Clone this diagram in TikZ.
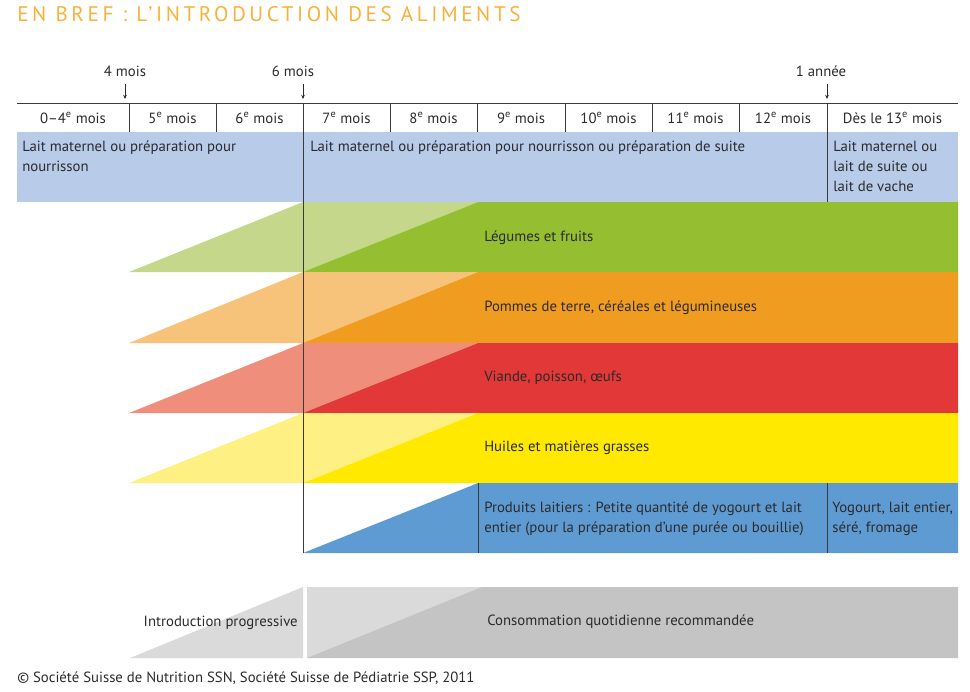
\documentclass[tikz,border=0pt]{standalone}
\usepackage{fontspec}
\setmainfont{PT Sans}
\newfontfamily\titlefont[LetterSpace=17]{PT Sans}
\usetikzlibrary{arrows.meta,positioning}
\definecolor{titleorange}{HTML}{F9B13B}
\definecolor{ink}{HTML}{2B2B2B}
\definecolor{rulegray}{HTML}{3A3A3A}
\definecolor{milkblue}{HTML}{B8CBE8}
\definecolor{dairyblue}{HTML}{5F9BD3}
\definecolor{greenlight}{HTML}{C5D78A}
\definecolor{greendark}{HTML}{95BF30}
\definecolor{orangelight}{HTML}{F7C27A}
\definecolor{orangedark}{HTML}{F09C20}
\definecolor{redlight}{HTML}{F08E7C}
\definecolor{reddark}{HTML}{E23838}
\definecolor{yellowlight}{HTML}{FFF084}
\definecolor{yellowdark}{HTML}{FFE900}
\definecolor{graylight}{HTML}{DADADA}
\definecolor{graydark}{HTML}{C4C4C4}

\begin{document}
\begin{tikzpicture}[
  x=0.025cm, y=-0.025cm,
  txt/.style={font=\fontsize{10.5}{14}\selectfont, text=ink, inner sep=0pt, align=left},
  month/.style={txt, anchor=center},
  food/.style={txt, anchor=west},
  milk/.style={txt, anchor=north west},
  rule/.style={draw=rulegray, line width=0.6pt},
  tick/.style={-{Stealth[length=3pt, width=2.6pt]}, line width=0.5pt, ink, shorten <=5pt}
]
  \useasboundingbox (0,0) rectangle (970,691);
  \node[anchor=west, inner sep=0pt, text=titleorange,
    font=\titlefont\fontsize{15}{18}\selectfont] (title) at (17,14) {EN BREF : L’INTRODUCTION DES ALIMENTS};

  \node[txt] (four) at (125,71) {4 mois};
  \node[txt] (six) at (293,71) {6 mois};
  \node[txt] (year) at (821,71) {1 année};
  \coordinate (fourtip) at (125,99);
  \coordinate (sixtip) at (303,99);
  \coordinate (yeartip) at (827,99);
  \draw[tick] (four.south) -- (fourtip);
  \draw[tick] (six.south -| sixtip) -- (sixtip);
  \draw[tick] (year.south -| yeartip) -- (yeartip);

  \node[month] (m0) at (73,118) {0–4\textsuperscript{e} mois};
  \node[month] (m5) at (172.5,118) {5\textsuperscript{e} mois};
  \node[month] (m6) at (259.5,118) {6\textsuperscript{e} mois};
  \node[month] (m7) at (346.5,118) {7\textsuperscript{e} mois};
  \node[month] (m8) at (433.5,118) {8\textsuperscript{e} mois};
  \node[month] (m9) at (521,118) {9\textsuperscript{e} mois};
  \node[month] (m10) at (608.5,118) {10\textsuperscript{e} mois};
  \node[month] (m11) at (695.5,118) {11\textsuperscript{e} mois};
  \node[month] (m12) at (783,118) {12\textsuperscript{e} mois};
  \node[month] (m13) at (892.5,118) {Dès le 13\textsuperscript{e} mois};
  \draw[rule] (17,103) -- (958,103);
  \foreach \x in {129,216,390,477,565,652,739}
    \draw[rule] (\x,103) -- (\x,132);

  \fill[milkblue] (17,132) rectangle (958,202);
  \node[milk] (milkfirst) at (22,141) {Lait maternel ou préparation pour\\nourrisson};
  \node[milk] (milknext) at (310,141) {Lait maternel ou préparation pour nourrisson ou préparation de suite};
  \node[milk] (milklast) at (833,141) {Lait maternel ou\\lait de suite ou\\lait de vache};

  \fill[greenlight] (129,272) -- (303,202) -- (478,202) -- (303,272) -- cycle;
  \fill[greendark] (303,272) -- (478,202) -- (958,202) -- (958,272) -- cycle;
  \node[food] (veg) at (484,238) {Légumes et fruits};

  \fill[orangelight] (129,343) -- (303,272) -- (478,272) -- (303,343) -- cycle;
  \fill[orangedark] (303,343) -- (478,272) -- (958,272) -- (958,343) -- cycle;
  \node[food] (starch) at (484,308) {Pommes de terre, céréales et légumineuses};

  \fill[redlight] (129,413) -- (303,343) -- (478,343) -- (303,413) -- cycle;
  \fill[reddark] (303,413) -- (478,343) -- (958,343) -- (958,413) -- cycle;
  \node[food] (meat) at (484,378) {Viande, poisson, œufs};

  \fill[yellowlight] (129,483) -- (303,413) -- (478,413) -- (303,483) -- cycle;
  \fill[yellowdark] (303,483) -- (478,413) -- (958,413) -- (958,483) -- cycle;
  \node[food] (fat) at (484,448) {Huiles et matières grasses};

  \fill[dairyblue] (303,553) -- (478,483) -- (958,483) -- (958,553) -- cycle;
  \node[food] (dairy) at (484,519) {Produits laitiers : Petite quantité de yogourt et lait\\entier (pour la préparation d’une purée ou bouillie)};
  \node[food] (dairylast) at (832,519) {Yogourt, lait entier,\\séré, fromage};

  \draw[rule] (303,103) -- (303,553);
  \draw[rule] (827,103) -- (827,202);
  \draw[rule] (478,483) -- (478,553);
  \draw[rule] (827,483) -- (827,553);

  \fill[graylight] (130,658) -- (303,587) -- (303,658) -- cycle;
  \fill[graylight] (307,587) rectangle (958,658);
  \fill[graydark] (307,658) -- (482,587) -- (958,587) -- (958,658) -- cycle;
  \node[txt, anchor=east] (gradual) at (298,623) {Introduction progressive};
  \node[txt, anchor=west] (daily) at (487,622) {Consommation quotidienne recommandée};

  \node[txt, anchor=west] (source) at (17,678) {© Société Suisse de Nutrition SSN, Société Suisse de Pédiatrie SSP, 2011};
\end{tikzpicture}
\end{document}
